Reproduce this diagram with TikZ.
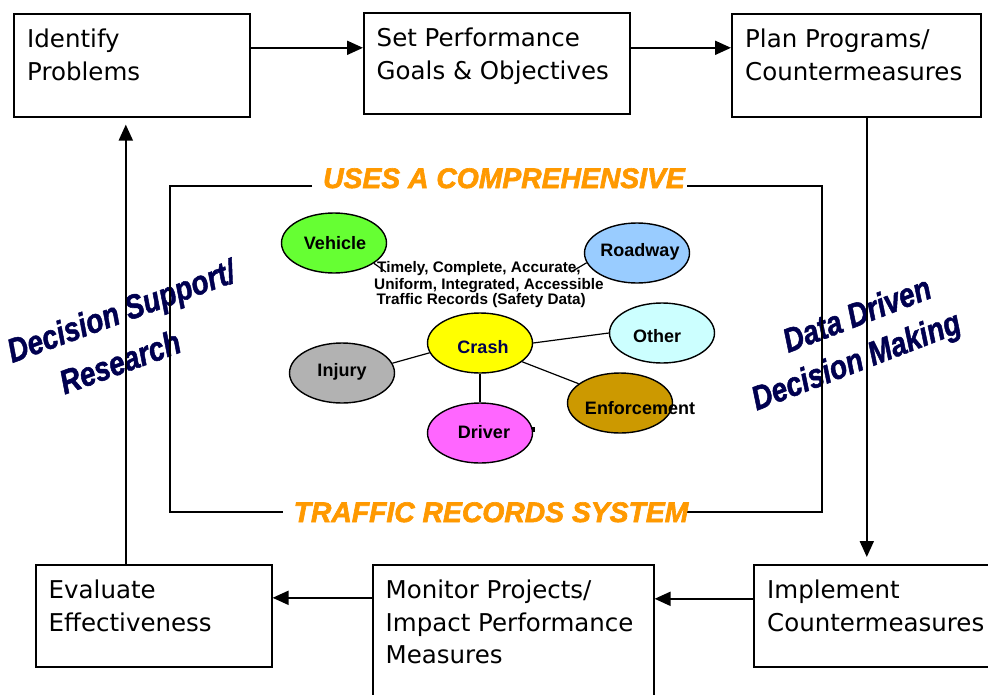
\documentclass[tikz,border=0pt]{standalone}
\usepackage{fontspec}
\setmainfont{DejaVu Sans}
\newfontfamily\arialf{Liberation Sans}
\newfontfamily\heavyf{Liberation Sans}[BoldItalicFeatures={FakeBold=1.6}]
\newfontfamily\titlef{Liberation Sans}[BoldItalicFeatures={FakeBold=2.2}]
\usetikzlibrary{arrows.meta,shapes.geometric}
\definecolor{navyT}{RGB}{0,0,80}
\definecolor{orangeT}{RGB}{255,153,0}
\definecolor{cVeh}{RGB}{102,255,51}
\definecolor{cRoad}{RGB}{153,204,255}
\definecolor{cOther}{RGB}{204,255,255}
\definecolor{cCrash}{RGB}{255,255,0}
\definecolor{cInj}{RGB}{178,178,178}
\definecolor{cDrv}{RGB}{255,102,255}
\definecolor{cEnf}{RGB}{204,153,0}
\tikzset{
  procbox/.style={draw, line width=1.6pt, anchor=north west, inner sep=0pt},
  boxtext/.style={anchor=north west, inner sep=0pt, align=left, font=\fontsize{24.5}{32.5}\selectfont},
  arr/.style={line width=2pt, -{Triangle[length=16pt,width=14pt]}},
  ell/.style={ellipse, draw, line width=1.4pt, minimum width=105pt, minimum height=60pt, inner sep=0pt},
  elltext/.style={font=\arialf\bfseries\fontsize{18}{18}\selectfont, inner sep=0pt},
  slant/.style={font=\heavyf\bfseries\itshape\fontsize{28}{28}\selectfont, text=navyT, inner sep=0pt, anchor=base},
  title/.style={font=\titlef\bfseries\itshape\fontsize{28.3}{28}\selectfont, text=orangeT, inner sep=0pt, anchor=base},
  frameline/.style={line width=1.4pt},
  link/.style={line width=1.2pt}
}
\begin{document}
\begin{tikzpicture}[x=1pt,y=-1pt]
\useasboundingbox (0,0) rectangle (988,694);
\clip (0,0) rectangle (988,694);
\fill[white] (0,0) rectangle (988,694);

% slanted labels
\node[slant, rotate=20, yscale=1.2] (ds1) at (125,322) {Decision Support/};
\node[slant, rotate=20, yscale=1.2] (ds2) at (124,373) {Research};
\node[slant, rotate=21, yscale=1.2] (dd1) at (861,325) {Data Driven};
\node[slant, rotate=21, yscale=1.2] (dd2) at (860,371) {Decision Making};

% process boxes
\node[procbox, minimum width=236pt, minimum height=103pt] (b1) at (13,13) {};
\node[procbox, minimum width=266pt, minimum height=101pt] (b2) at (363,12) {};
\node[procbox, minimum width=249pt, minimum height=103pt] (b3) at (731,13) {};
\node[procbox, minimum width=236pt, minimum height=102pt] (b4) at (35,564) {};
\node[procbox, minimum width=281pt, minimum height=140pt] (b5) at (372,564) {};
\node[procbox, minimum width=250pt, minimum height=102pt] (b6) at (753,564) {};

\node[boxtext] (t1) at ([xshift=14pt,yshift=-12pt]b1.north west) {\strut Identify\\Problems};
\node[boxtext] (t2) at ([xshift=13.5pt,yshift=-12pt]b2.north west) {\strut Set Performance\\Goals \& Objectives};
\node[boxtext] (t3) at ([xshift=14pt,yshift=-12pt]b3.north west) {\strut Plan Programs/\\Countermeasures};
\node[boxtext] (t4) at ([xshift=13.5pt,yshift=-12pt]b4.north west) {\strut Evaluate\\Effectiveness};
\node[boxtext] (t5) at ([xshift=13.5pt,yshift=-12pt]b5.north west) {\strut Monitor Projects/\\Impact Performance\\Measures};
\node[boxtext] (t6) at ([xshift=14pt,yshift=-12pt]b6.north west) {\strut Implement\\Countermeasures};

% cycle arrows
\draw[arr] ([yshift=17.5pt]b1.east) -- ([yshift=15.5pt]b2.west);
\draw[arr] ([yshift=15.5pt]b2.east) -- ([yshift=17.5pt]b3.west);
\draw[arr] ([xshift=10.5pt]b3.south) -- ([xshift=-12pt,yshift=7pt]b6.north);
\draw[arr] ([yshift=17pt]b6.west) -- ([yshift=36pt]b5.east);
\draw[arr] ([yshift=37pt]b5.west) -- ([yshift=18pt]b4.east);
\draw[arr] ([xshift=-28pt]b4.north) -- ([xshift=-6pt,yshift=-7pt]b1.south);

% inner frame
\draw[frameline] (312,186) -- (170,186) -- (170,512) -- (283,512);
\draw[frameline] (687,186) -- (822,186) -- (822,512) -- (683,512);
\node[title] (ttop) at (504,188) {USES A COMPREHENSIVE};
\node[title] (tbot) at (491,522) {TRAFFIC RECORDS SYSTEM};

% ellipses
\node[ell, fill=cVeh] (veh) at (334,243) {};
\node[ell, fill=cRoad] (road) at (637,253) {};
\node[ell, fill=cOther] (oth) at (662,333) {};
\node[ell, fill=cCrash] (crash) at (480,343) {};
\node[ell, fill=cInj] (inj) at (342,373) {};
\node[ell, fill=cDrv] (drv) at (480,433) {};
\node[ell, fill=cEnf] (enf) at (620,403) {};

\coordinate (vend) at (386,272);
\coordinate (rend) at (571,272);
\draw[link] (veh.-27) -- (vend);
\draw[link] (road.191) -- (rend);
\draw[link] (crash.east) -- (oth.west);
\draw[link] (crash.191) -- (inj.11);
\draw[link] (crash.-24) -- (enf.155);
\draw[link] (crash.south) -- (drv.north);
\fill (532,427) rectangle (535,432);

\node[elltext] (lveh) at (335,243) {Vehicle};
\node[elltext] (lroad) at (640,252) {Roadway};
\node[elltext] (loth) at (657,336) {Other};
\node[elltext, text=navyT] (lcrash) at (483,347) {Crash};
\node[elltext] (linj) at (342,372) {Injury};
\node[elltext] (ldrv) at (484,432) {Driver};
\node[elltext] (lenf) at (640,408) {Enforcement};

\node[anchor=north west, inner sep=0pt, align=left, font=\arialf\bfseries\fontsize{15.3}{15.5}\selectfont] (tdata) at (374,261.15)
  {\strut\hspace{3pt}Timely, Complete, Accurate,\\Uniform, Integrated, Accessible\\\hspace{2.5pt}Traffic Records (Safety Data)};
\end{tikzpicture}
\end{document}
